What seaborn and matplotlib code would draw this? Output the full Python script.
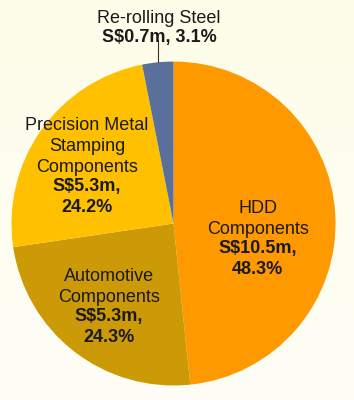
import matplotlib
matplotlib.use("Agg")
import matplotlib.pyplot as plt
import matplotlib.colors as mcolors
import seaborn as sns
import numpy as np

# Revenue breakdown by segment (S$m, share %)
segments = ["HDD\nComponents", "Automotive\nComponents",
            "Precision Metal\nStamping\nComponents", "Re-rolling Steel"]
revenue = [10.5, 5.3, 5.3, 0.7]
shares = [48.3, 24.3, 24.2, 3.1]
value_labels = ["S$10.5m,\n48.3%", "S$5.3m,\n24.3%", "S$5.3m,\n24.2%",
                "S$0.7m, 3.1%"]
colors = ["#FF9900", "#CC9A06", "#FFC000", "#5A6F9A"]

sns.set_theme(style="white")
plt.rcParams["font.family"] = ["Liberation Sans", "DejaVu Sans"]

fig = plt.figure(figsize=(3.54, 4.0), dpi=100)

# soft cream background
bg = fig.add_axes([0, 0, 1, 1])
grad = np.linspace(0, 1, 256).reshape(-1, 1)
cmap = mcolors.LinearSegmentedColormap.from_list("bg", ["#FFFDE9", "#FEFEF6"])
bg.imshow(grad, aspect="auto", cmap=cmap, extent=[0, 1, 0, 1], origin="upper")
bg.set_axis_off()

ax = fig.add_axes([0, 0, 1, 1])
ax.patch.set_alpha(0)
ax.pie(shares, colors=colors, startangle=90, counterclock=False,
       wedgeprops=dict(linewidth=0))
ax.set_aspect("auto")
ax.set_xlim(-1.071, 1.114)
ax.set_ylim(-1.0895, 1.380)
ax.set_axis_off()

# label anchor points (split between name and value text)
anchors = [(0.52, -0.096), (-0.40, -0.515), (-0.534, 0.287), (-0.09, 1.207)]
txt = "#1a1a1a"
for name, val, (x, y) in zip(segments, value_labels, anchors):
    ax.text(x, y + 0.008, name, ha="center", va="bottom", fontsize=13,
            color=txt, linespacing=1.28)
    ax.text(x, y - 0.008, val, ha="center", va="top", fontsize=13,
            color=txt, fontweight="bold", linespacing=1.28)

# leader line for the small slice
ax.plot([-0.094, -0.094], [1.13, 0.995], color="#333333", lw=0.8)

fig.savefig("out.png", dpi=100)
